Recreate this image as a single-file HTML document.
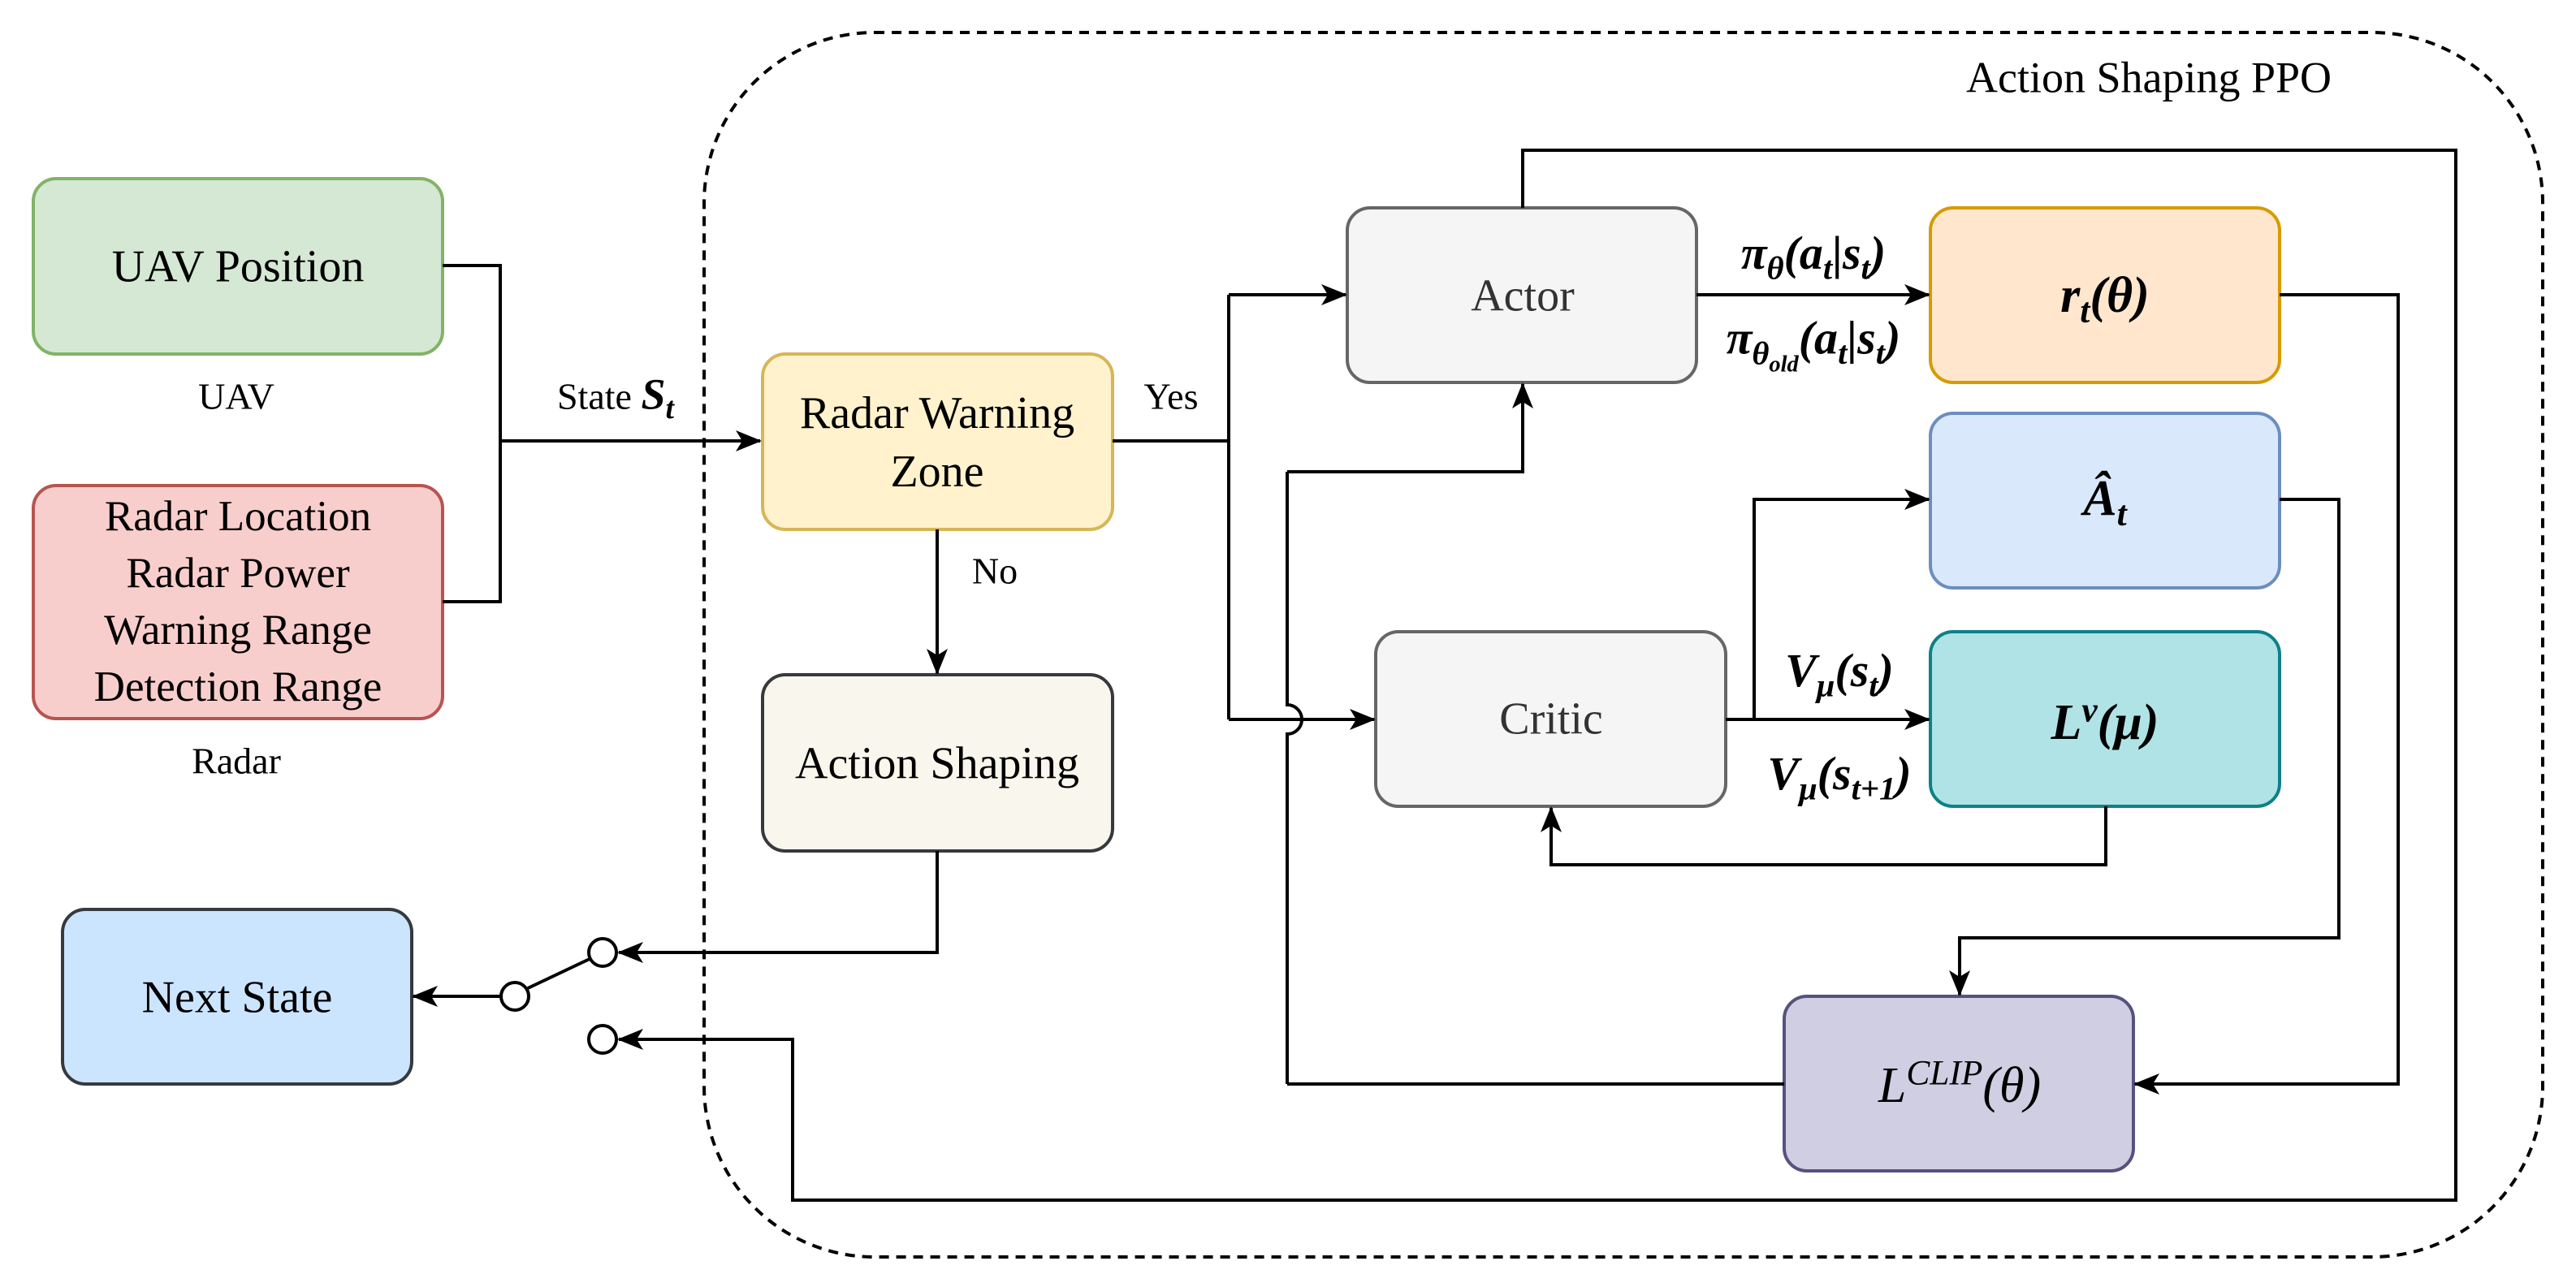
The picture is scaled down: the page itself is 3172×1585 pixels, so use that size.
<!DOCTYPE html>
<html><head><meta charset="utf-8"><style>
html,body{margin:0;padding:0;background:#fff}
#c{position:relative;width:3172px;height:1585px;overflow:hidden;font-family:"Liberation Serif","Times New Roman","DejaVu Serif",serif}
.t{position:absolute;transform:translate(-50%,-50%);white-space:nowrap;color:#000;text-align:center;line-height:1.2;font-family:"Liberation Serif","Times New Roman","DejaVu Serif",serif}
.m{font-style:italic;font-weight:bold}
sub,sup{font-size:70%}
</style></head><body><div id="c">
<svg width="3172" height="1585" style="position:absolute;left:0;top:0">
<defs><marker id="a" markerUnits="userSpaceOnUse" markerWidth="34" markerHeight="28" refX="30" refY="13" orient="auto"><path d="M0,0 L32,13 L0,26 L8,13 z" fill="#000"/></marker></defs>
<rect x="867" y="40" width="2264" height="1508" rx="210" fill="none" stroke="#000" stroke-width="4" stroke-dasharray="12,9"/>
<g stroke-width="4">
<rect x="41" y="220" width="504" height="216" rx="28" fill="#d5e8d4" stroke="#82b366"/>
<rect x="41" y="598" width="504" height="287" rx="28" fill="#f8cecc" stroke="#b85450"/>
<rect x="939" y="436" width="431" height="216" rx="28" fill="#fff2cc" stroke="#d6b656"/>
<rect x="939" y="831" width="431" height="217" rx="28" fill="#f9f7ed" stroke="#36393d"/>
<rect x="77" y="1120" width="430" height="215" rx="28" fill="#cce5ff" stroke="#36393d"/>
<rect x="1659" y="256" width="430" height="215" rx="28" fill="#f5f5f5" stroke="#666"/>
<rect x="1694" y="778" width="431" height="215" rx="28" fill="#f5f5f5" stroke="#666"/>
<rect x="2377" y="256" width="430" height="215" rx="28" fill="#ffe6cc" stroke="#d79b00"/>
<rect x="2377" y="509" width="430" height="215" rx="28" fill="#dae8fc" stroke="#6c8ebf"/>
<rect x="2377" y="778" width="430" height="215" rx="28" fill="#b0e3e6" stroke="#0e8088"/>
<rect x="2197" y="1227" width="430" height="215" rx="28" fill="#d0cee2" stroke="#56517e"/>
</g>
<g fill="none" stroke="#000" stroke-width="4">
<path d="M545,327 H616 V741 H545"/>
<path d="M616,543 H936" marker-end="url(#a)"/>
<path d="M1370,543 H1513"/>
<path d="M1513,363 V886"/>
<path d="M1513,363 H1657" marker-end="url(#a)"/>
<path d="M1513,886 H1692" marker-end="url(#a)"/>
<path d="M1585,1335 V904 A18,18 0 0 0 1585,868 V581" />
<path d="M2197,1335 H1585 M1585,581 H1875 V473" marker-end="url(#a)"/>
<path d="M1154,652 V829" marker-end="url(#a)"/>
<path d="M1154,1048 V1173 H762" marker-end="url(#a)"/>
<path d="M616,1227 H509" marker-end="url(#a)"/>
<path d="M650,1217 L726,1181"/>
<path d="M1875,256 V185 H3024 V1478 H976 V1280 H762" marker-end="url(#a)"/>
<path d="M2089,363 H2375" marker-end="url(#a)"/>
<path d="M2807,363 H2953 V1335 H2629" marker-end="url(#a)"/>
<path d="M2807,615 H2880 V1155 H2413 V1225" marker-end="url(#a)"/>
<path d="M2125,886 H2375" marker-end="url(#a)"/>
<path d="M2160,886 V615 H2375" marker-end="url(#a)"/>
<path d="M2593,993 V1065 H1910 V995" marker-end="url(#a)"/>
</g>
<g fill="#fff" stroke="#000" stroke-width="4">
<circle cx="742" cy="1173" r="17"/><circle cx="634" cy="1227" r="17"/><circle cx="742" cy="1280" r="17"/>
</g>
</svg>
<div class="t" style="left:293px;top:329px;font-size:56px">UAV Position</div>
<div class="t" style="left:291px;top:488px;font-size:46px">UAV</div>
<div class="t" style="left:293px;top:741px;font-size:53px;line-height:70px">Radar Location<br>Radar Power<br>Warning Range<br>Detection Range</div>
<div class="t" style="left:291px;top:937px;font-size:46px">Radar</div>
<div class="t" style="left:758px;top:490px;font-size:46px">State <span class="m" style="font-size:54px">S<sub>t</sub></span></div>
<div class="t" style="left:1154px;top:545px;font-size:56px;line-height:72px">Radar Warning<br>Zone</div>
<div class="t" style="left:1442px;top:488px;font-size:46px">Yes</div>
<div class="t" style="left:1225px;top:703px;font-size:46px">No</div>
<div class="t" style="left:1154px;top:941px;font-size:56px">Action Shaping</div>
<div class="t" style="left:292px;top:1229px;font-size:56px">Next State</div>
<div class="t" style="left:2646px;top:96px;font-size:54px">Action Shaping PPO</div>
<div class="t" style="left:1875px;top:365px;font-size:56px;color:#333">Actor</div>
<div class="t" style="left:1910px;top:886px;font-size:56px;color:#333">Critic</div>
<div class="t m" style="left:2233px;top:316px;font-size:58px">π<sub>θ</sub>(a<sub>t</sub>|s<sub>t</sub>)</div>
<div class="t m" style="left:2233px;top:424px;font-size:58px">π<sub>θ<sub>old</sub></sub>(a<sub>t</sub>|s<sub>t</sub>)</div>
<div class="t m" style="left:2592px;top:368px;font-size:62px">r<sub>t</sub>(θ)</div>
<div class="t m" style="left:2592px;top:618px;font-size:62px">Â<sub>t</sub></div>
<div class="t m" style="left:2592px;top:888px;font-size:62px">L<sup>v</sup>(μ)</div>
<div class="t m" style="left:2413px;top:1335px;font-size:62px;font-weight:normal">L<sup>CLIP</sup>(θ)</div>
<div class="t m" style="left:2265px;top:830px;font-size:58px">V<sub>μ</sub>(s<sub>t</sub>)</div>
<div class="t m" style="left:2265px;top:957px;font-size:58px">V<sub>μ</sub>(s<sub>t+1</sub>)</div>
</div></body></html>
